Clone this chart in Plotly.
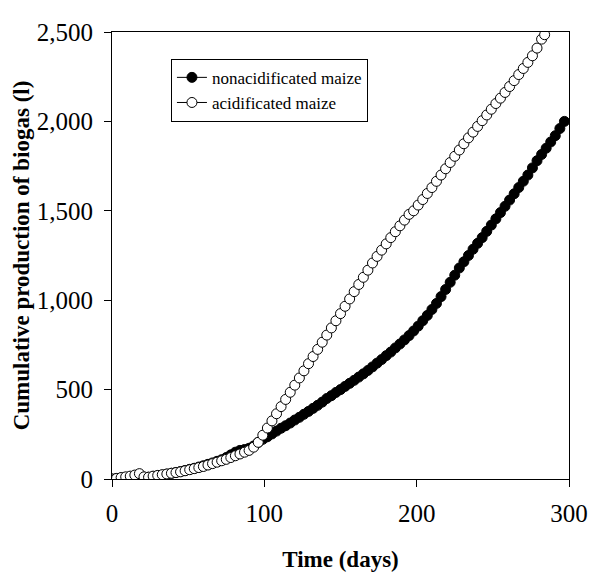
import plotly.graph_objects as go

# Time (days), sampled every 3 days
days_non = [0, 3, 6, 9, 12, 15, 18, 21, 24, 27, 30, 33, 36, 39, 42, 45, 48, 51, 54, 57,
            60, 63, 66, 69, 72, 75, 78, 81, 84, 87, 90, 93, 96, 99, 102, 105, 108, 111, 114, 117,
            120, 123, 126, 129, 132, 135, 138, 141, 144, 147, 150, 153, 156, 159, 162, 165, 168, 171, 174, 177,
            180, 183, 186, 189, 192, 195, 198, 201, 204, 207, 210, 213, 216, 219, 222, 225, 228, 231, 234, 237,
            240, 243, 246, 249, 252, 255, 258, 261, 264, 267, 270, 273, 276, 279, 282, 285, 288, 291, 294, 297]
biogas_non = [0, 3, 6, 9, 12, 14, 14, 10, 10, 14, 18, 22, 27, 32, 37, 42, 48, 54, 60, 67,
              74, 82, 90, 99, 108, 120, 135, 150, 160, 165, 172, 185, 205, 222, 236, 252, 268, 284, 298, 313,
              330, 345, 362, 378, 395, 412, 430, 450, 466, 484, 500, 518, 535, 552, 570, 588, 607, 627, 648, 668,
              690, 710, 733, 755, 778, 802, 828, 855, 885, 915, 948, 982, 1020, 1060, 1100, 1140, 1180, 1215, 1250, 1285,
              1318, 1350, 1385, 1420, 1455, 1490, 1525, 1560, 1595, 1630, 1665, 1700, 1740, 1780, 1815, 1850, 1885, 1920, 1960, 2000]

days_acid = [0, 3, 6, 9, 12, 15, 18, 21, 24, 27, 30, 33, 36, 39, 42, 45, 48, 51, 54, 57,
             60, 63, 66, 69, 72, 75, 78, 81, 84, 87, 90, 93, 96, 99, 102, 105, 108, 111, 114, 117,
             120, 123, 126, 129, 132, 135, 138, 141, 144, 147, 150, 153, 156, 159, 162, 165, 168, 171, 174, 177,
             180, 183, 186, 189, 192, 195, 198, 201, 204, 207, 210, 213, 216, 219, 222, 225, 228, 231, 234, 237,
             240, 243, 246, 249, 252, 255, 258, 261, 264, 267, 270, 273, 276, 279, 282, 284]
biogas_acid = [0, 3, 8, 12, 16, 22, 30, 12, 10, 16, 20, 24, 28, 32, 36, 40, 46, 52, 58, 64,
               70, 78, 86, 94, 102, 110, 120, 130, 140, 150, 160, 178, 205, 245, 285, 325, 365, 405, 445, 485,
               525, 565, 605, 645, 685, 725, 765, 805, 845, 885, 925, 966, 1007, 1048, 1088, 1128, 1168, 1208, 1245, 1280,
               1315, 1350, 1383, 1416, 1448, 1480, 1500, 1532, 1563, 1597, 1630, 1665, 1700, 1735, 1770, 1805, 1840, 1875, 1908, 1940,
               1972, 2004, 2036, 2068, 2100, 2130, 2162, 2195, 2228, 2262, 2296, 2330, 2367, 2410, 2460, 2485]

x_ticks = [0, 100, 200, 300]
y_ticks = [0, 500, 1000, 1500, 2000, 2500]

FONT = "Liberation Serif"

fig = go.Figure()
fig.add_trace(go.Scatter(
    x=days_non, y=biogas_non, mode="lines+markers", name="nonacidificated maize",
    line=dict(color="black", width=1),
    marker=dict(symbol="circle", size=10, color="black", line=dict(color="black", width=1)),
))
fig.add_trace(go.Scatter(
    x=days_acid, y=biogas_acid, mode="lines+markers", name="acidificated maize",
    line=dict(color="black", width=1),
    marker=dict(symbol="circle", size=10, color="white", line=dict(color="black", width=1)),
))

# page body has an 8px default margin, so the figure is sized to fit the window
fig.update_layout(
    width=591, height=570,
    margin=dict(l=104, r=21, t=11, b=91),
    paper_bgcolor="white", plot_bgcolor="white",
    font=dict(family=FONT, color="black"),
    showlegend=True,
    legend=dict(
        x=0.129, y=0.94, xanchor="left", yanchor="top",
        bordercolor="black", borderwidth=1, bgcolor="white",
        font=dict(family=FONT, size=17, color="black"),
        itemwidth=30, tracegroupgap=0,
    ),
    xaxis=dict(
        range=[0, 300], tickvals=x_ticks, ticks="outside", ticklen=7, tickcolor="black",
        showline=True, linecolor="black", linewidth=1, mirror=True,
        showgrid=False, zeroline=False,
        tickfont=dict(family=FONT, size=25, color="black"),
        ticklabelstandoff=5, ticklabeloverflow="allow",
        title=dict(text="<b>Time (days)</b>", font=dict(family=FONT, size=23, color="black"), standoff=24),
    ),
    yaxis=dict(
        range=[0, 2500], tickvals=y_ticks, tickformat=",d", ticks="outside", ticklen=7, tickcolor="black",
        showline=True, linecolor="black", linewidth=1, mirror=True,
        showgrid=False, zeroline=False,
        tickfont=dict(family=FONT, size=25, color="black"),
        ticklabelstandoff=6, ticklabeloverflow="allow",
        title=dict(text="<b>Cumulative production of biogas (l)</b>", font=dict(family=FONT, size=23, color="black"), standoff=0),
    ),
)

fig.write_html("out.html")
